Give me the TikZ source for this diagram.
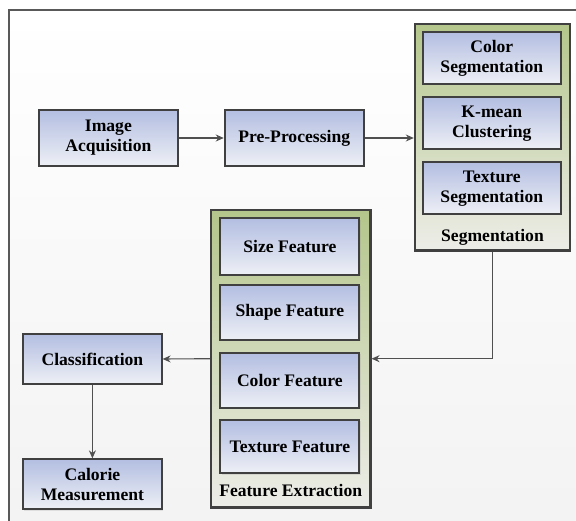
\documentclass[tikz,border=0pt]{standalone}
\usepackage{fontspec}
\setmainfont{Liberation Serif}
\usetikzlibrary{arrows.meta,shadows}
\definecolor{bordc}{HTML}{404040}
\definecolor{boxtop}{HTML}{B3BEE1}
\definecolor{boxbot}{HTML}{EEF0F6}
\definecolor{grtop}{HTML}{B4C68B}
\definecolor{grbot}{HTML}{EDEDE8}
\definecolor{arrc}{HTML}{505050}
\tikzset{
  pbox/.style={draw=bordc, line width=1.9pt, top color=boxtop, bottom color=boxbot,
    align=center, inner sep=0pt, font=\fontsize{17.6}{20}\selectfont\bfseries,
    drop shadow={opacity=0.18, shadow xshift=1.2pt, shadow yshift=-1.2pt}},
  cont/.style={draw=bordc, line width=2.4pt, top color=grtop, bottom color=grbot, inner sep=0pt,
    drop shadow={opacity=0.18, shadow xshift=1.2pt, shadow yshift=-1.2pt}},
  lbl/.style={font=\fontsize{17.6}{20}\selectfont\bfseries, inner sep=0pt},
  conn/.style={draw=arrc, line width=1.1pt, -{Stealth[length=8pt,width=7pt]}}
}
\begin{document}
\begin{tikzpicture}[x=1pt,y=-1pt]
\useasboundingbox (0,0) rectangle (576,521);
\clip (0,0) rectangle (576,521);
\fill[white] (0,0) rectangle (576,521);
\shade[top color=white, bottom color=black!5] (8.8,10) rectangle (590,540);
\draw[draw=black!65, line width=1.4pt] (8.8,540) -- (8.8,10) -- (590,10);

% top row
\node[pbox, minimum width=139.6, minimum height=55.7] (ia) at (108.4,138) {Image\\Acquisition};
\node[pbox, minimum width=139, minimum height=55.7] (pp) at (294.2,138) {Pre-Processing};

% segmentation container
\node[cont, minimum width=155, minimum height=226.7] (seg) at (492.5,137.3) {};
\node[pbox, minimum width=138.5, minimum height=51.7] (cs) at (491.8,58.2) {Color\\Segmentation};
\node[pbox, minimum width=138.5, minimum height=52] (km) at (491.8,123.3) {K-mean\\Clustering};
\node[pbox, minimum width=138.5, minimum height=51.7] (ts) at (491.8,188.2) {Texture\\Segmentation};
\node[lbl] (segl) at (492.5,237.3) {Segmentation};

% feature extraction container
\node[cont, minimum width=159.3, minimum height=297.3] (fe) at (290.7,358.7) {};
\node[pbox, minimum width=139, minimum height=56.7] (sf) at (289.9,246.7) {Size Feature};
\node[pbox, minimum width=139, minimum height=55] (shf) at (289.9,312.5) {Shape Feature};
\node[pbox, minimum width=139, minimum height=55] (cf) at (289.9,380.8) {Color Feature};
\node[pbox, minimum width=139, minimum height=53.3] (tf) at (289.9,446.7) {Texture Feature};
\node[lbl] (fel) at (290.7,491) {Feature Extraction};

% left column
\node[pbox, minimum width=138.5, minimum height=50] (cl) at (92.4,359) {Classification};
\node[pbox, minimum width=138.5, minimum height=50] (cm) at (92.4,484.3) {Calorie\\Measurement};

% connectors
\draw[conn] (ia.east) -- (pp.west);
\draw[conn] (pp.east) -- (seg.west |- pp.east);
\draw[conn] (seg.south) -- (seg.south |- fe.east) -- (fe.east);
\draw[conn] (fe.west) -- (cl.east);
\draw[conn] (cl.south) -- (cm.north);
\end{tikzpicture}
\end{document}
